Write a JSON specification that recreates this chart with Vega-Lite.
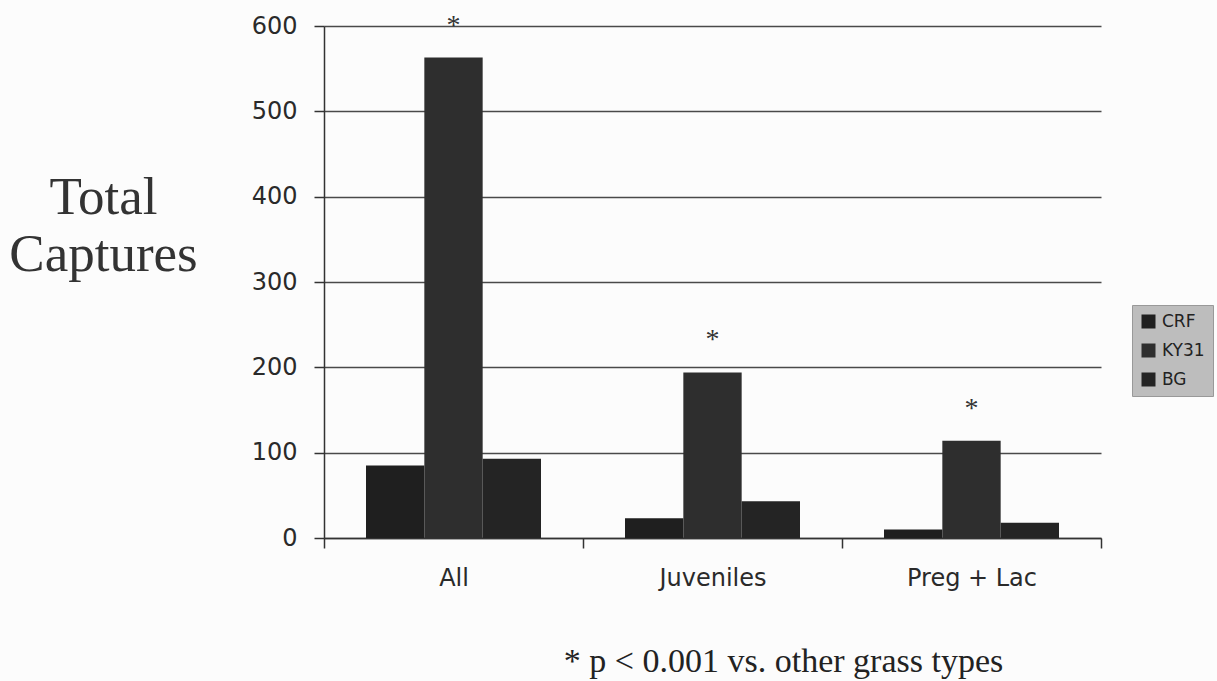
{
  "$schema": "https://vega.github.io/schema/vega-lite/v6.json",
  "autosize": {"type": "none"},
  "padding": {"left": 324, "top": 26, "right": 116, "bottom": 143},
  "width": 777,
  "height": 512,
  "background": "#fcfcfc",
  "data": {
    "values": [
      {"group": "All", "grass": "CRF", "captures": 85, "sig": ""},
      {"group": "All", "grass": "KY31", "captures": 563, "sig": "*"},
      {"group": "All", "grass": "BG", "captures": 93, "sig": ""},
      {"group": "Juveniles", "grass": "CRF", "captures": 23, "sig": ""},
      {"group": "Juveniles", "grass": "KY31", "captures": 194, "sig": "*"},
      {"group": "Juveniles", "grass": "BG", "captures": 43, "sig": ""},
      {"group": "Preg + Lac", "grass": "CRF", "captures": 10, "sig": ""},
      {"group": "Preg + Lac", "grass": "KY31", "captures": 114, "sig": "*"},
      {"group": "Preg + Lac", "grass": "BG", "captures": 18, "sig": ""}
    ]
  },
  "config": {
    "view": {"stroke": null},
    "axis": {"labelColor": "#2a2a2a", "tickColor": "#333", "domainColor": "#333"}
  },
  "encoding": {
    "x": {
      "field": "group",
      "type": "nominal",
      "sort": ["All", "Juveniles", "Preg + Lac"],
      "scale": {"paddingInner": 0, "paddingOuter": 0},
      "axis": {
        "title": "* p < 0.001 vs. other grass types",
        "titleFont": "Liberation Serif",
        "titleFontSize": 34,
        "titleFontWeight": "normal",
        "titleColor": "#222",
        "titleAlign": "center",
        "titleBaseline": "alphabetic",
        "titleX": 459,
        "titleY": 133,
        "labelAngle": 0,
        "labelFont": "DejaVu Sans",
        "labelFontSize": 24,
        "labelPadding": 18,
        "tickBand": "extent",
        "tickSize": 10,
        "tickWidth": 1.5,
        "domainWidth": 1.5,
        "grid": false
      }
    },
    "xOffset": {
      "field": "grass",
      "type": "nominal",
      "sort": ["CRF", "KY31", "BG"],
      "scale": {"paddingInner": 0, "paddingOuter": 0.72}
    },
    "y": {
      "field": "captures",
      "type": "quantitative",
      "scale": {"domain": [0, 600], "nice": false},
      "axis": {
        "values": [0, 100, 200, 300, 400, 500, 600],
        "title": ["Total", "Captures"],
        "titleFont": "Liberation Serif",
        "titleFontSize": 53,
        "titleFontWeight": "normal",
        "titleColor": "#333",
        "titleAngle": 0,
        "titleAlign": "center",
        "titleBaseline": "alphabetic",
        "titleX": -221,
        "titleY": 187,
        "titleLineHeight": 57,
        "labelFont": "DejaVu Sans",
        "labelFontSize": 24,
        "labelPadding": 17,
        "tickSize": 10,
        "tickWidth": 1.5,
        "domainWidth": 1.5,
        "grid": true,
        "gridColor": "#4a4a4a",
        "gridWidth": 1.5
      }
    }
  },
  "layer": [
    {
      "mark": {"type": "bar"},
      "encoding": {
        "color": {
          "field": "grass",
          "type": "nominal",
          "sort": ["CRF", "KY31", "BG"],
          "scale": {"domain": ["CRF", "KY31", "BG"], "range": ["#1f1f1f", "#2e2e2e", "#242424"]},
          "legend": {
            "title": null,
            "orient": "none",
            "legendX": 808,
            "legendY": 279,
            "fillColor": "#bdbdbd",
            "strokeColor": "#999",
            "padding": 8,
            "symbolType": "square",
            "symbolSize": 196,
            "symbolStrokeWidth": 0,
            "labelFont": "DejaVu Sans",
            "labelFontSize": 17,
            "labelColor": "#222",
            "labelOffset": 5,
            "rowPadding": 11
          }
        }
      }
    },
    {
      "mark": {"type": "text", "font": "Liberation Serif", "fontSize": 28, "color": "#333", "baseline": "alphabetic", "dy": -24},
      "encoding": {"text": {"field": "sig"}}
    }
  ]
}
